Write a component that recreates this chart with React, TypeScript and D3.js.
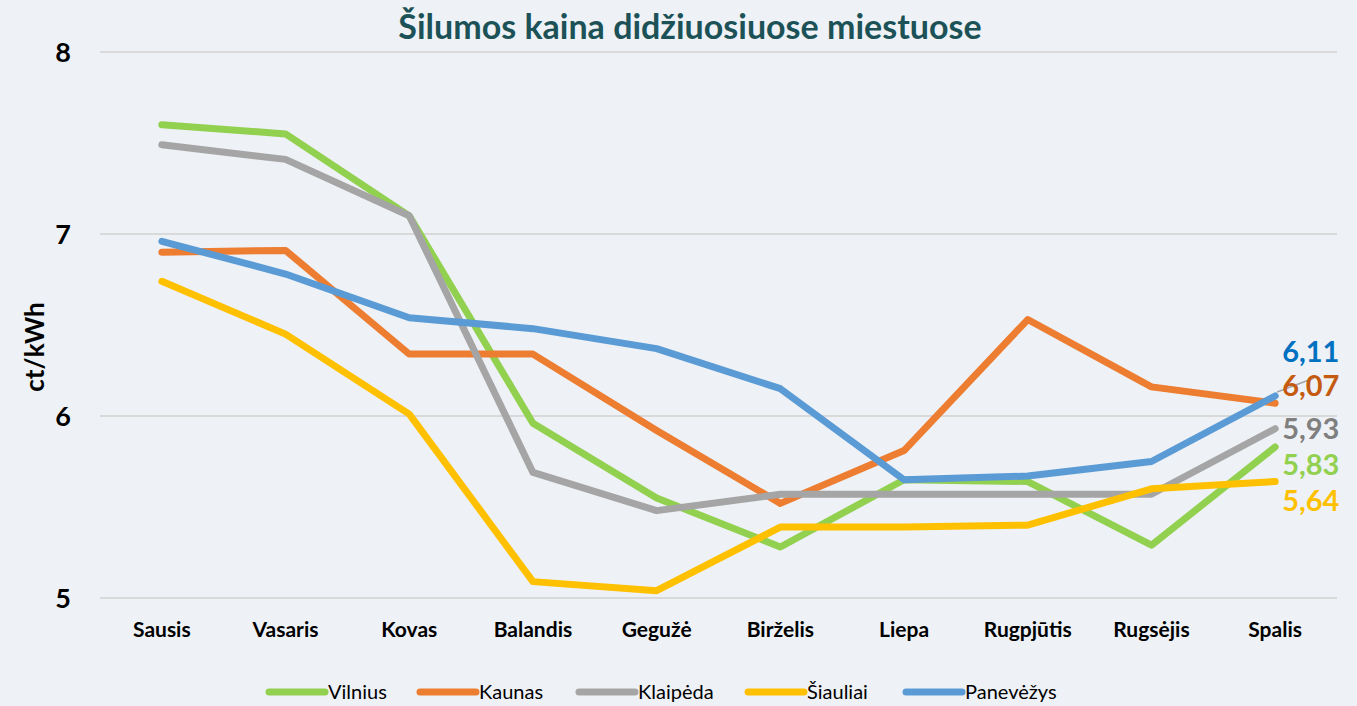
import React, { useRef, useEffect } from "react";
import * as d3 from "d3";

const months = ["Sausis", "Vasaris", "Kovas", "Balandis", "Gegužė", "Birželis", "Liepa", "Rugpjūtis", "Rugsėjis", "Spalis"];
const vilnius = [7.6, 7.55, 7.1, 5.96, 5.55, 5.28, 5.65, 5.64, 5.29, 5.83];
const kaunas = [6.9, 6.91, 6.34, 6.34, 5.92, 5.52, 5.81, 6.53, 6.16, 6.07];
const klaipeda = [7.49, 7.41, 7.1, 5.69, 5.48, 5.57, 5.57, 5.57, 5.57, 5.93];
const siauliai = [6.74, 6.45, 6.01, 5.09, 5.04, 5.39, 5.39, 5.4, 5.6, 5.64];
const panevezys = [6.96, 6.78, 6.54, 6.48, 6.37, 6.15, 5.65, 5.67, 5.75, 6.11];
const yTicks = [5, 6, 7, 8];

const series = [
  { name: "Vilnius", values: vilnius, color: "#92d050", label: "#92d050" },
  { name: "Kaunas", values: kaunas, color: "#ed7d31", label: "#c55a11" },
  { name: "Klaipėda", values: klaipeda, color: "#a5a5a5", label: "#7f7f7f" },
  { name: "Šiauliai", values: siauliai, color: "#ffc000", label: "#ffc000" },
  { name: "Panevėžys", values: panevezys, color: "#5b9bd5", label: "#0070c0" },
];

// end labels are shifted apart by hand in the original
const labelY = { Vilnius: 465, Kaunas: 386, "Klaipėda": 429, "Šiauliai": 501, "Panevėžys": 352 };
const legendX = [269, 420, 579, 748, 906];

const W = 1357;
const H = 706;
const FONT = "Lato, 'Open Sans', sans-serif";

export default function App() {
  const svgRef = useRef(null);

  useEffect(() => {
    const svg = d3.select(svgRef.current);
    svg.selectAll("*").remove();

    const left = 100, right = 1337, top = 52, bottom = 598;

    const x = d3.scalePoint().domain(months).range([left, right]).padding(0.5);
    const y = d3.scaleLinear().domain([5, 8]).range([bottom, top]);

    svg.append("rect").attr("width", W).attr("height", H).attr("fill", "#eef2f6");

    // grid
    svg.append("g")
      .selectAll("line")
      .data(yTicks)
      .join("line")
      .attr("x1", left)
      .attr("x2", right)
      .attr("y1", (d) => y(d))
      .attr("y2", (d) => y(d))
      .attr("stroke", "#d9d9d9")
      .attr("stroke-width", 2);

    svg.append("g")
      .selectAll("text")
      .data(yTicks)
      .join("text")
      .attr("x", 63)
      .attr("y", (d) => y(d))
      .attr("dy", "0.36em")
      .attr("text-anchor", "middle")
      .attr("font-family", FONT)
      .attr("font-weight", "bold")
      .attr("font-size", 27)
      .text((d) => d);

    svg.append("text")
      .attr("transform", `translate(44,${(top + bottom) / 2 + 22}) rotate(-90)`)
      .attr("text-anchor", "middle")
      .attr("font-family", FONT)
      .attr("font-weight", "bold")
      .attr("font-size", 26)
      .text("ct/kWh");

    svg.append("g")
      .selectAll("text")
      .data(months)
      .join("text")
      .attr("x", (d) => x(d))
      .attr("y", 637)
      .attr("text-anchor", "middle")
      .attr("font-family", FONT)
      .attr("font-weight", "bold")
      .attr("font-size", 21)
      .text((d) => d);

    svg.append("text")
      .attr("x", 690)
      .attr("y", 39)
      .attr("text-anchor", "middle")
      .attr("font-family", FONT)
      .attr("font-weight", "bold")
      .attr("font-size", 34)
      .attr("fill", "#1c5257")
      .text("Šilumos kaina didžiuosiuose miestuose");

    const line = d3.line<number>()
      .x((_, i) => x(months[i]))
      .y((d) => y(d));

    svg.append("g")
      .selectAll("path")
      .data(series)
      .join("path")
      .attr("d", (s) => line(s.values))
      .attr("fill", "none")
      .attr("stroke", (s) => s.color)
      .attr("stroke-width", 7)
      .attr("stroke-linecap", "round")
      .attr("stroke-linejoin", "round");

    // leader line for Kaunas label
    const last = months[months.length - 1];
    svg.append("line")
      .attr("x1", x(last) + 2)
      .attr("y1", y(panevezys[9]) - 4)
      .attr("x2", x(last) + 39)
      .attr("y2", 378)
      .attr("stroke", "#a5a5a5")
      .attr("stroke-width", 1.5);

    svg.append("g")
      .selectAll("text")
      .data(series)
      .join("text")
      .attr("x", x(last) + 7)
      .attr("y", (s) => labelY[s.name])
      .attr("dy", "0.36em")
      .attr("font-family", FONT)
      .attr("font-weight", "bold")
      .attr("font-size", 29)
      .attr("fill", (s) => s.label)
      .text((s) => s.values[s.values.length - 1].toFixed(2).replace(".", ","));

    // legend
    const lg = svg.append("g")
      .selectAll("g")
      .data(series)
      .join("g")
      .attr("transform", (_, i) => `translate(${legendX[i]},692)`);
    lg.append("line")
      .attr("x1", 0)
      .attr("x2", 56)
      .attr("stroke", (s) => s.color)
      .attr("stroke-width", 7)
      .attr("stroke-linecap", "round");
    lg.append("text")
      .attr("x", 59)
      .attr("dy", "0.36em")
      .attr("font-family", FONT)
      .attr("font-size", 20)
      .text((s) => s.name);
  }, []);

  return (
    <svg
      ref={svgRef}
      width={W}
      height={H}
      style={{ display: "block", position: "absolute", left: 0, top: 0 }}
    />
  );
}
